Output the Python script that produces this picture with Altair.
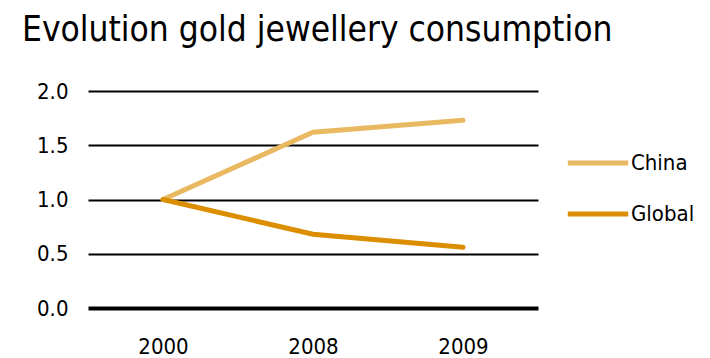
import altair as alt
import pandas as pd

years = ["2000", "2008", "2009"]
china = [1.0, 1.62, 1.73]
global_ = [1.0, 0.68, 0.56]
series_names = ["China", "Global"]
colors = ["#E9B962", "#DB8F00"]

rows = []
for y, c, g in zip(years, china, global_):
    rows.append({"year": y, "series": "China", "value": c})
    rows.append({"year": y, "series": "Global", "value": g})
df = pd.DataFrame(rows)

FONT = "DejaVu Sans Condensed"

x_enc = alt.X("year:O", sort=years, scale=alt.Scale(paddingInner=1, paddingOuter=0.5),
              axis=alt.Axis(title=None, labelAngle=0, domain=False, ticks=False, grid=False,
                            labelPadding=28, labelFontSize=22, labelFont=FONT,
                            labelColor="#000000"))
y_scale = alt.Scale(domain=[0, 2])

chart = alt.Chart(df).mark_line(strokeWidth=5, strokeCap="round").encode(
    x=x_enc,
    y=alt.Y("value:Q", scale=y_scale,
            axis=alt.Axis(title=None, values=[0, 0.5, 1, 1.5, 2], format=".1f",
                          domain=False, ticks=False, grid=True, gridColor="#000000",
                          gridWidth={"condition": {"test": "datum.value === 0", "value": 4},
                                     "value": 2},
                          gridOpacity=1, labelPadding=20, labelFontSize=22,
                          labelFont=FONT, labelColor="#000000")),
    color=alt.Color("series:N", scale=alt.Scale(domain=series_names, range=colors),
                    legend=alt.Legend(title=None, orient="none", legendX=477, legendY=39,
                                      symbolType="stroke", symbolSize=3650,
                                      symbolStrokeWidth=5, labelFontSize=22, labelFont=FONT,
                                      labelColor="#000000", rowPadding=7, labelOffset=0)),
).properties(
    width=450, height=217,
    autosize=alt.AutoSizeParams(type="none"),
    title=alt.TitleParams("Evolution gold jewellery consumption", anchor="start",
                          frame="group", fontSize=35, font=FONT, fontWeight="normal",
                          color="#000000", offset=16, dy=12, baseline="alphabetic", dx=-66),
    padding={"left": 88, "top": 91, "right": 172, "bottom": 50},
).configure(background="#ffffff", view=alt.ViewConfig(stroke="transparent", strokeWidth=0))

chart.save("out.html", embed_options={"renderer": "svg", "actions": False})
